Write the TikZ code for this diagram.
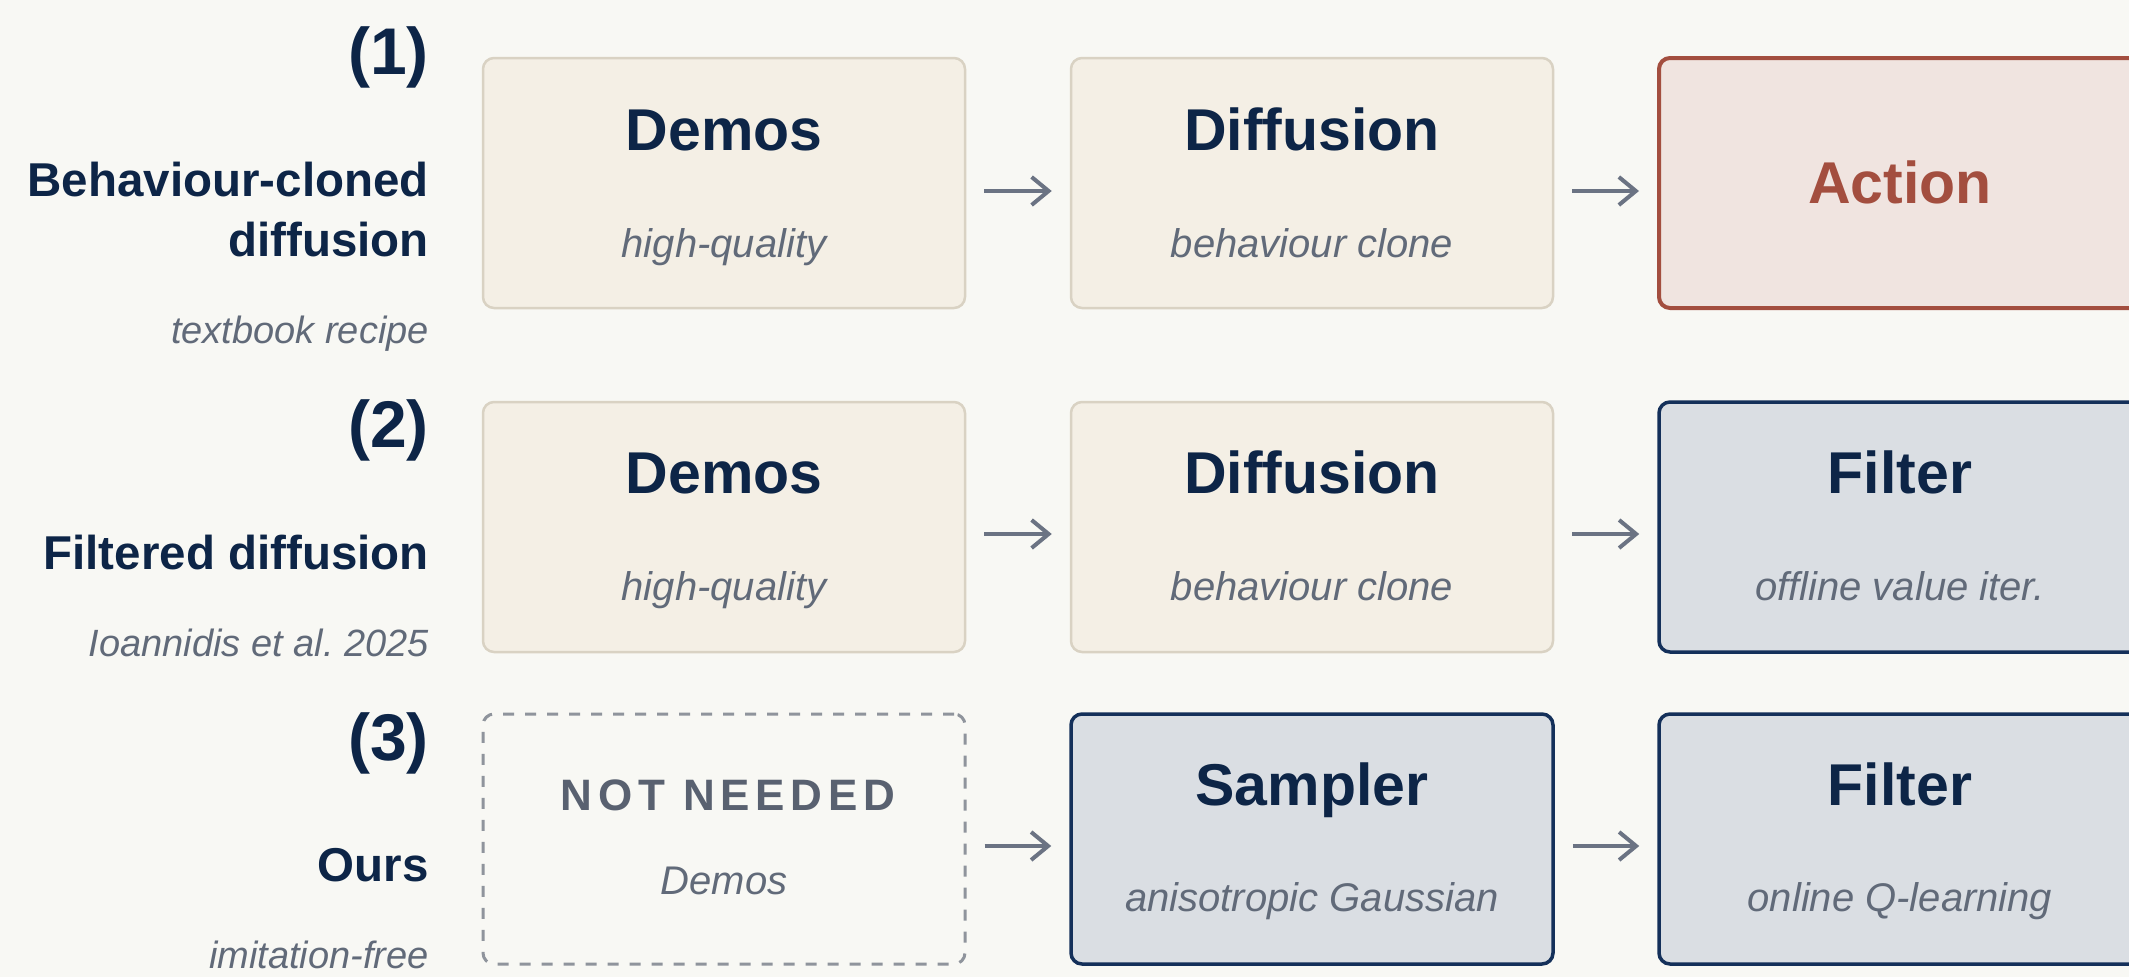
\documentclass[tikz,border=0pt]{standalone}
\usepackage{fontspec}
\setmainfont{Liberation Sans}
\usetikzlibrary{arrows.meta,calc}
\definecolor{bg}{HTML}{F8F8F4}
\definecolor{navy}{HTML}{0D2547}
\definecolor{slate}{HTML}{616A79}
\definecolor{arrowgray}{HTML}{6B7383}
\definecolor{beigefill}{HTML}{F4EFE5}
\definecolor{beigeline}{HTML}{D9D2C3}
\definecolor{redfill}{HTML}{F0E4E0}
\definecolor{redline}{HTML}{A34E3F}
\definecolor{bluefill}{HTML}{DADEE3}
\definecolor{blueline}{HTML}{14305A}
\definecolor{dashgray}{HTML}{8F949C}
\definecolor{nngray}{HTML}{596170}
\newcommand{\fsz}[1]{\fontsize{#1}{#1}\selectfont}
\tikzset{
  box/.style={rectangle, rounded corners=11pt, minimum width=482pt, minimum height=250pt, inner sep=0pt},
  beige/.style={box, fill=beigefill, draw=beigeline, line width=2.5pt},
  redbox/.style={box, fill=redfill, draw=redline, line width=4pt},
  bluebox/.style={box, fill=bluefill, draw=blueline, line width=3.5pt},
  dashbox/.style={box, draw=dashgray, line width=3pt, dash pattern=on 11pt off 11pt},
  title/.style={anchor=base, text=navy, font=\fsz{59}\bfseries, inner sep=0pt},
  sub/.style={anchor=base, text=slate, font=\fsz{40}\itshape, inner sep=0pt},
  num/.style={anchor=base east, text=navy, font=\fsz{66}\bfseries, inner sep=0pt},
  lab/.style={anchor=base east, text=navy, font=\fsz{47.5}\bfseries, inner sep=0pt},
  note/.style={anchor=base east, text=slate, font=\fsz{38}\itshape, inner sep=0pt},
  arr/.style={draw=arrowgray, line width=4pt, -{Straight Barb[length=17pt,width=28pt]}}
}
\begin{document}
\begin{tikzpicture}[x=1pt,y=-1pt]
\fill[bg] (0,0) rectangle (2129,977);
\useasboundingbox (0,0) rectangle (2129,977);
\clip (0,0) rectangle (2129,977);

% left labels
\node[num] (n1) at (429,74) {(1)};
\node[lab] (l1a) at (429,196) {Behaviour-cloned};
\node[lab] (l1b) at (429,256) {diffusion};
\node[note] (t1) at (429,343) {textbook recipe};

\node[num] (n2) at (429,447) {(2)};
\node[lab] (l2) at (429,569) {Filtered diffusion};
\node[note] (t2) at (429,656) {Ioannidis et al.\ 2025};

\node[num] (n3) at (429,760) {(3)};
\node[lab] (l3) at (429,881) {Ours};
\node[note] (t3) at (429,968) {imitation-free};

% row 1
\node[beige] (b11) at (724,183) {};
\node[beige] (b12) at (1312,183) {};
\node[redbox] (b13) at (1900,183) {};
\node[title] (h11) at ($(b11.north)+(0,94)$) {Demos};
\node[sub] (s11) at ($(b11.north)+(0,201)$) {high-quality};
\node[title] (h12) at ($(b12.north)+(0,94)$) {Diffusion};
\node[sub] (s12) at ($(b12.north)+(0,201)$) {behaviour clone};
\node[title, text=redline] (h13) at ($(b13.north)+(0,147)$) {Action};

% row 2
\node[beige] (b21) at (724,527) {};
\node[beige] (b22) at (1312,527) {};
\node[bluebox] (b23) at (1900,527) {};
\node[title] (h21) at ($(b21.north)+(0,93)$) {Demos};
\node[sub] (s21) at ($(b21.north)+(0,200)$) {high-quality};
\node[title] (h22) at ($(b22.north)+(0,93)$) {Diffusion};
\node[sub] (s22) at ($(b22.north)+(0,200)$) {behaviour clone};
\node[title] (h23) at ($(b23.north)+(0,93)$) {Filter};
\node[sub] (s23) at ($(b23.north)+(0,200)$) {offline value iter.};

% row 3
\node[dashbox] (b31) at (724,839) {};
\node[bluebox] (b32) at (1312,839) {};
\node[bluebox] (b33) at (1900,839) {};
\node[anchor=base, text=nngray, font=\fsz{44}\bfseries\addfontfeature{LetterSpace=13}, inner sep=0pt] (h31) at ($(b31.north)+(4,98)$) {NOT NEEDED};
\node[sub] (s31) at ($(b31.north)+(0,182)$) {Demos};
\node[title] (h32) at ($(b32.north)+(0,93)$) {Sampler};
\node[sub] (s32) at ($(b32.north)+(0,199)$) {anisotropic Gaussian};
\node[title] (h33) at ($(b33.north)+(0,93)$) {Filter};
\node[sub] (s33) at ($(b33.north)+(0,199)$) {online Q-learning};

% arrows
\draw[arr] ($(b11.east)+(18,8)$) -- ($(b12.west)+(-18,8)$);
\draw[arr] ($(b12.east)+(18,8)$) -- ($(b13.west)+(-18,8)$);
\draw[arr] ($(b21.east)+(18,7)$) -- ($(b22.west)+(-18,7)$);
\draw[arr] ($(b22.east)+(18,7)$) -- ($(b23.west)+(-18,7)$);
\draw[arr] ($(b31.east)+(18,7)$) -- ($(b32.west)+(-18,7)$);
\draw[arr] ($(b32.east)+(18,7)$) -- ($(b33.west)+(-18,7)$);
\end{tikzpicture}
\end{document}
